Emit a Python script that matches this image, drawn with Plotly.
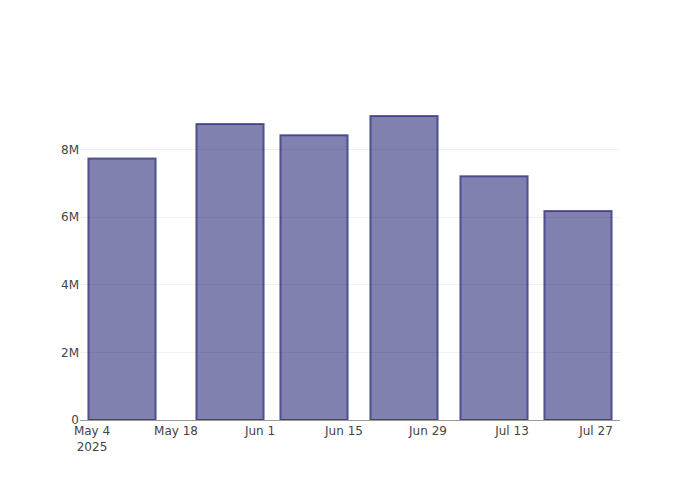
import plotly.graph_objects as go

dates = ["2025-05-09", "2025-05-27", "2025-06-10", "2025-06-25", "2025-07-10", "2025-07-24"]
values = [7730000, 8750000, 8420000, 8990000, 7210000, 6180000]

fig = go.Figure(
    go.Bar(
        x=dates,
        y=values,
        marker=dict(
            color="rgba(25,25,112,0.55)",
            line=dict(color="rgba(40,40,120,0.72)", width=2),
        ),
    )
)

fig.update_layout(
    width=684,
    height=484,
    template="none",
    paper_bgcolor="white",
    plot_bgcolor="white",
    font=dict(family="DejaVu Sans, sans-serif", size=12, color="#444"),
    margin=dict(l=72, r=72, t=92, b=72),
    showlegend=False,
)
fig.update_xaxes(
    type="date",
    range=["2025-05-02", "2025-07-31"],
    showgrid=False,
    showline=True,
    linecolor="#999",
    linewidth=1,
    ticks="",
    zeroline=False,
)
fig.update_yaxes(
    showgrid=True,
    gridcolor="#f0f0f0",
    zeroline=False,
    showline=False,
    ticks="",
)

fig.write_html("out.html")
